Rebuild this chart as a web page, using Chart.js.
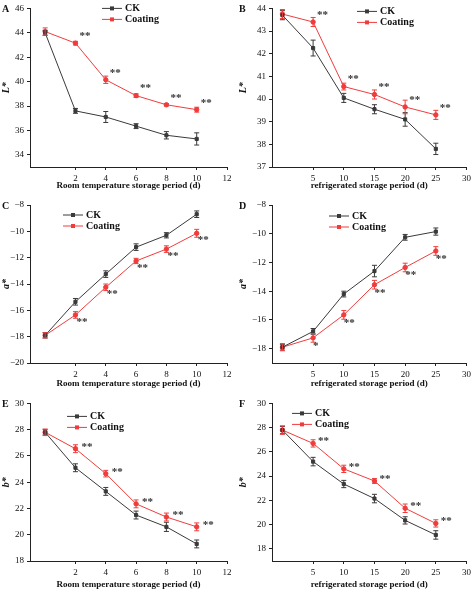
<!DOCTYPE html>
<html><head><meta charset="utf-8">
<script src="https://cdn.jsdelivr.net/npm/chart.js@4"></script>
<style>
body{margin:0;background:#fff;width:474px;height:594px;position:relative;overflow:hidden}
canvas{position:absolute}
</style></head><body>
<canvas id="cA" width="237" height="195" style="left:0;top:0"></canvas>
<canvas id="cB" width="237" height="195" style="left:237px;top:0"></canvas>
<canvas id="cC" width="237" height="198" style="left:0;top:195px"></canvas>
<canvas id="cD" width="237" height="198" style="left:237px;top:195px"></canvas>
<canvas id="cE" width="237" height="199" style="left:0;top:395px"></canvas>
<canvas id="cF" width="237" height="199" style="left:237px;top:395px"></canvas>
<script>
// storage days
var daysRoom = [0, 2, 4, 6, 8, 10];
var daysFridge = [0, 5, 10, 15, 20, 25];

// L* values
var lRoomCK = [44.0, 37.6, 37.1, 36.35, 35.6, 35.3];
var lRoomCKErr = [0.2, 0.2, 0.45, 0.2, 0.3, 0.5];
var lRoomCoat = [44.1, 43.15, 40.15, 38.85, 38.1, 37.7];
var lRoomCoatErr = [0.3, 0.15, 0.3, 0.15, 0.1, 0.2];
var lFridgeCK = [43.7, 42.25, 40.05, 39.55, 39.1, 37.8];
var lFridgeCKErr = [0.2, 0.35, 0.2, 0.2, 0.3, 0.25];
var lFridgeCoat = [43.75, 43.4, 40.55, 40.2, 39.65, 39.3];
var lFridgeCoatErr = [0.2, 0.2, 0.15, 0.2, 0.3, 0.2];

// a* values
var aRoomCK = [-17.9, -15.35, -13.25, -11.2, -10.3, -8.7];
var aRoomCKErr = [0.2, 0.25, 0.25, 0.25, 0.2, 0.25];
var aRoomCoat = [-17.9, -16.35, -14.25, -12.25, -11.35, -10.15];
var aRoomCoatErr = [0.2, 0.25, 0.25, 0.2, 0.25, 0.3];
var aFridgeCK = [-17.9, -16.8, -14.2, -12.6, -10.25, -9.85];
var aFridgeCKErr = [0.2, 0.2, 0.2, 0.4, 0.2, 0.25];
var aFridgeCoat = [-17.9, -17.25, -15.65, -13.55, -12.35, -11.2];
var aFridgeCoatErr = [0.25, 0.3, 0.3, 0.3, 0.3, 0.3];

// b* values
var bRoomCK = [27.8, 25.1, 23.3, 21.5, 20.6, 19.3];
var bRoomCKErr = [0.2, 0.3, 0.3, 0.3, 0.35, 0.3];
var bRoomCoat = [27.8, 26.55, 24.65, 22.35, 21.35, 20.6];
var bRoomCoatErr = [0.25, 0.3, 0.25, 0.3, 0.3, 0.3];
var bFridgeCK = [27.8, 25.2, 23.35, 22.15, 20.35, 19.15];
var bFridgeCKErr = [0.3, 0.35, 0.3, 0.35, 0.3, 0.35];
var bFridgeCoat = [27.8, 26.7, 24.6, 23.6, 21.35, 20.1];
var bFridgeCoatErr = [0.35, 0.3, 0.3, 0.2, 0.35, 0.3];

// significance marks for coating vs CK
var sigRoom = ["", "**", "**", "**", "**", "**"];
var sigFridgeA = ["", "*", "**", "**", "**", "**"];
var seriesNames = ["CK", "Coating"];

var FONT = "'Liberation Serif', serif";
var CK_COLOR = "#3a3a3a", COAT_COLOR = "#f03c3c";

function pts(xs, ys){ return xs.map(function(x, i){ return {x: x, y: ys[i]}; }); }

// keep only ticks that fall on whole steps (drop the odd axis-start value)
function stepTicks(step){
  return function(s){
    s.ticks = s.ticks.filter(function(t){
      var r = t.value / step; return Math.abs(r - Math.round(r)) < 1e-6;
    });
  };
}

var extras = {
  id: "extras",
  afterDatasetsDraw: function(chart){
    var o = chart.options.plugins.extras, ctx = chart.ctx;
    var xs = chart.scales.x, ys = chart.scales.y;
    ctx.save();
    // error bars
    chart.data.datasets.forEach(function(ds){
      ctx.strokeStyle = ds.borderColor; ctx.lineWidth = 1;
      ds.data.forEach(function(p, i){
        var e = ds.err[i], px = xs.getPixelForValue(p.x);
        var y1 = ys.getPixelForValue(p.y - e), y2 = ys.getPixelForValue(p.y + e);
        ctx.beginPath();
        ctx.moveTo(px, y1); ctx.lineTo(px, y2);
        ctx.moveTo(px - 2.5, y1); ctx.lineTo(px + 2.5, y1);
        ctx.moveTo(px - 2.5, y2); ctx.lineTo(px + 2.5, y2);
        ctx.stroke();
      });
    });
    // significance stars
    var coat = chart.data.datasets[1];
    ctx.fillStyle = "#333"; ctx.font = "bold 11px " + FONT;
    ctx.textAlign = "left"; ctx.textBaseline = "middle";
    o.sig.forEach(function(s, i){
      if(!s) return;
      var p = coat.data[i];
      ctx.fillText(s, xs.getPixelForValue(p.x) + o.sdx, ys.getPixelForValue(p.y) + o.sdy);
    });
    // legend
    var lx = chart.chartArea.left + o.lx, ly = chart.chartArea.top + o.ly;
    chart.data.datasets.forEach(function(ds, di){
      var y = ly + di * 11;
      ctx.strokeStyle = ds.borderColor; ctx.fillStyle = ds.borderColor; ctx.lineWidth = 1;
      ctx.beginPath(); ctx.moveTo(lx, y); ctx.lineTo(lx + 20, y); ctx.stroke();
      ctx.fillRect(lx + 8, y - 2, 4, 4);
      ctx.fillStyle = "#111"; ctx.font = "bold 10px " + FONT;
      ctx.fillText(ds.label, lx + 23, y);
    });
    // panel letter
    ctx.fillStyle = "#111"; ctx.font = "bold 10px " + FONT; ctx.textAlign = "left";
    ctx.fillText(o.letter, 2, chart.chartArea.top + 1);
    ctx.restore();
  }
};

function makeChart(id, xs, ck, ckErr, coat, coatErr, cfg){
  new Chart(document.getElementById(id), {
    type: "line",
    data: { datasets: [
      { label: seriesNames[0], data: pts(xs, ck), err: ckErr, borderColor: CK_COLOR, backgroundColor: CK_COLOR,
        borderWidth: 1, pointStyle: "rect", pointRadius: 2.2, tension: 0 },
      { label: seriesNames[1], data: pts(xs, coat), err: coatErr, borderColor: COAT_COLOR, backgroundColor: COAT_COLOR,
        borderWidth: 1, pointStyle: "circle", pointRadius: 2.2, tension: 0 }
    ]},
    options: {
      responsive: false, animation: false,
      layout: { padding: { top: cfg.padTop, right: cfg.padRight, left: 0, bottom: 0 } },
      plugins: { legend: { display: false }, tooltip: { enabled: false },
        extras: { sig: cfg.sig, sdx: cfg.sdx, sdy: cfg.sdy, lx: cfg.lx, ly: cfg.ly, letter: cfg.letter } },
      scales: {
        x: { type: "linear", min: cfg.xmin, max: cfg.xmax,
          afterBuildTicks: stepTicks(cfg.xstep),
          ticks: { stepSize: cfg.xstep, color: "#111", font: { family: FONT, size: 9 }, maxRotation: 0 },
          grid: { drawOnChartArea: false, tickLength: 3, color: "#222" },
          border: { color: "#222" },
          title: { display: true, text: cfg.xtitle, color: "#111", font: { family: FONT, size: 9, weight: "bold" }, padding: { top: 2 } },
          afterFit: function(s){ s.height = cfg.xh; } },
        y: { min: cfg.ymin, max: cfg.ymax,
          afterBuildTicks: stepTicks(cfg.ystep),
          ticks: { stepSize: cfg.ystep, color: "#111", font: { family: FONT, size: 9 },
            callback: function(v){ return (v < 0 ? "\u2212" + (-v) : v); } },
          grid: { drawOnChartArea: false, tickLength: 3, color: "#222" },
          border: { color: "#222" },
          title: { display: true, text: cfg.ytitle, color: "#111", font: { family: FONT, size: 10, weight: "bold", style: "italic" }, padding: 0 },
          afterFit: function(s){ s.width = cfg.yw; } }
      }
    },
    plugins: [extras]
  });
}

var roomX = "Room temperature storage period (d)", fridgeX = "refrigerated storage period (d)";
makeChart("cA", daysRoom, lRoomCK, lRoomCKErr, lRoomCoat, lRoomCoatErr,
  { letter: "A", xmin: -1, xmax: 12, xstep: 2, ymin: 33, ymax: 46, ystep: 2, xtitle: roomX, ytitle: "L*",
    padTop: 7, padRight: 10, xh: 28, yw: 30, sig: sigRoom, sdx: 4, sdy: -7, lx: 72, ly: 0 });
makeChart("cB", daysFridge, lFridgeCK, lFridgeCKErr, lFridgeCoat, lFridgeCoatErr,
  { letter: "B", xmin: -1.7, xmax: 30, xstep: 5, ymin: 37, ymax: 44, ystep: 1, xtitle: fridgeX, ytitle: "L*",
    padTop: 7, padRight: 4, xh: 28, yw: 35, sig: sigRoom, sdx: 4, sdy: -7, lx: 85, ly: 3 });
makeChart("cC", daysRoom, aRoomCK, aRoomCKErr, aRoomCoat, aRoomCoatErr,
  { letter: "C", xmin: -1, xmax: 12, xstep: 2, ymin: -20, ymax: -8, ystep: 2, xtitle: roomX, ytitle: "a*",
    padTop: 10, padRight: 10, xh: 30, yw: 30, sig: sigRoom, sdx: 1, sdy: 7, lx: 33, ly: 10 });
makeChart("cD", daysFridge, aFridgeCK, aFridgeCKErr, aFridgeCoat, aFridgeCoatErr,
  { letter: "D", xmin: -1.7, xmax: 30, xstep: 5, ymin: -19, ymax: -8, ystep: 2, xtitle: fridgeX, ytitle: "a*",
    padTop: 10, padRight: 4, xh: 30, yw: 35, sig: sigFridgeA, sdx: 0, sdy: 8, lx: 57, ly: 11 });
makeChart("cE", daysRoom, bRoomCK, bRoomCKErr, bRoomCoat, bRoomCoatErr,
  { letter: "E", xmin: -1, xmax: 12, xstep: 2, ymin: 18, ymax: 30, ystep: 2, xtitle: roomX, ytitle: "b*",
    padTop: 7, padRight: 10, xh: 33, yw: 30, sig: sigRoom, sdx: 6, sdy: -2, lx: 37, ly: 13 });
makeChart("cF", daysFridge, bFridgeCK, bFridgeCKErr, bFridgeCoat, bFridgeCoatErr,
  { letter: "F", xmin: -1.7, xmax: 30, xstep: 5, ymin: 17, ymax: 30, ystep: 2, xtitle: fridgeX, ytitle: "b*",
    padTop: 7, padRight: 4, xh: 33, yw: 35, sig: sigRoom, sdx: 5, sdy: -2, lx: 20, ly: 10 });
</script>
</body></html>
